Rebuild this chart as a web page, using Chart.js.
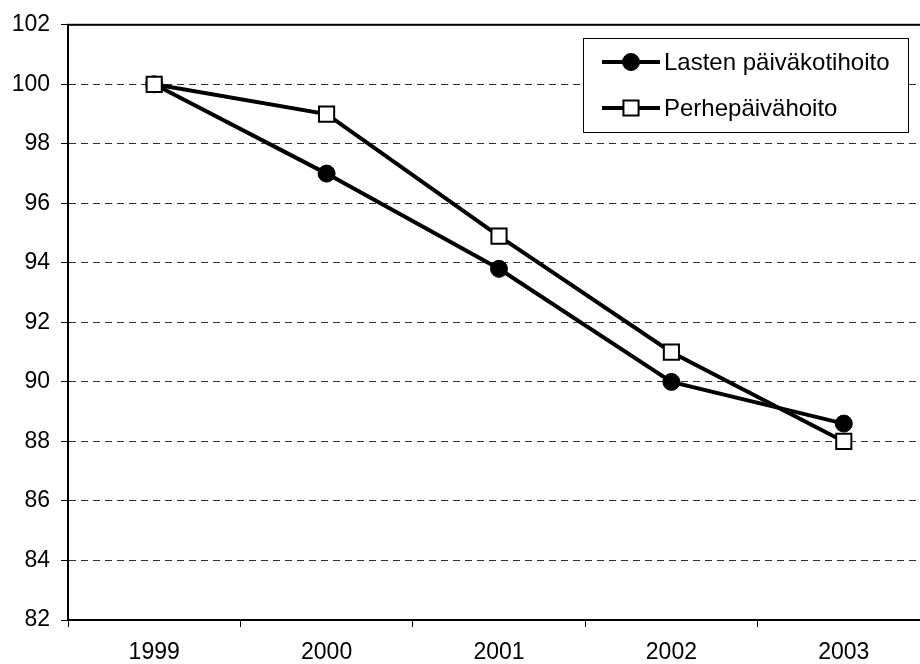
<!DOCTYPE html>
<html>
<head>
<meta charset="utf-8">
<script src="https://cdn.jsdelivr.net/npm/chart.js@4"></script>
<style>
    html, body { margin: 0; padding: 0; overflow: hidden; background: #fff; }
    #indexChart { display: block; }
</style>
</head>
<body>
<!-- canvas is a little wider than the window: the plot's right edge sits just off-picture -->
<canvas id="indexChart" width="932" height="664"></canvas>
<script>
// Index values, 1999 = 100
const years = ['1999', '2000', '2001', '2002', '2003'];
const lastenValues = [100, 97, 93.8, 90, 88.6];
const perheValues = [100, 99, 94.9, 91, 88];
const seriesNames = ['Lasten päiväkotihoito', 'Perhepäivähoito'];
const yMin = 82;
const yMax = 102;
const yStep = 2;

const FONT = '"Liberation Sans", Arial, sans-serif';

// Frame round the plot area plus the boxed legend with line+marker samples
const framePlugin = {
    id: 'frameAndLegend',
    afterDatasetsDraw(chart) {
        const ctx = chart.ctx;
        const a = chart.chartArea;
        ctx.save();
        ctx.strokeStyle = '#000';
        ctx.lineWidth = 2;
        ctx.strokeRect(a.left, a.top, a.right - a.left, a.bottom - a.top);

        // legend box
        const box = { x: 583, y: 38, w: 325, h: 94 };
        ctx.fillStyle = '#fff';
        ctx.fillRect(box.x, box.y, box.w, box.h);
        ctx.lineWidth = 1;
        ctx.strokeRect(box.x + 0.5, box.y + 0.5, box.w, box.h);

        const items = [chart.data.datasets[0], chart.data.datasets[1]];
        items.forEach((ds, i) => {
            const y = 62 + i * 46;
            ctx.strokeStyle = '#000';
            ctx.lineWidth = 4;
            ctx.beginPath();
            ctx.moveTo(602, y);
            ctx.lineTo(660, y);
            ctx.stroke();
            ctx.fillStyle = ds.pointBackgroundColor;
            ctx.strokeStyle = '#000';
            ctx.lineWidth = ds.pointBorderWidth;
            Chart.helpers.drawPoint(ctx, {
                pointStyle: ds.pointStyle,
                radius: ds.pointRadius,
                borderWidth: ds.pointBorderWidth,
                rotation: 0
            }, 631, y);
            ctx.fillStyle = '#000';
            ctx.font = '24px ' + FONT;
            ctx.textBaseline = 'middle';
            ctx.textAlign = 'left';
            ctx.fillText(ds.label, 664, y + 1);
        });
        ctx.restore();
    }
};

const ctx = document.getElementById('indexChart').getContext('2d');
new Chart(ctx, {
    type: 'line',
    data: {
        labels: years,
        datasets: [
            {
                label: seriesNames[0],
                data: lastenValues,
                order: 1,
                borderColor: '#000',
                borderWidth: 4,
                pointStyle: 'circle',
                pointRadius: 8.5,
                pointBackgroundColor: '#000',
                pointBorderColor: '#000',
                pointBorderWidth: 1,
                tension: 0
            },
            {
                label: seriesNames[1],
                data: perheValues,
                order: 0,
                borderColor: '#000',
                borderWidth: 4,
                pointStyle: 'rect',
                pointRadius: 10.7,
                pointBackgroundColor: '#fff',
                pointBorderColor: '#000',
                pointBorderWidth: 2,
                tension: 0
            }
        ]
    },
    options: {
        responsive: false,
        animation: false,
        layout: { autoPadding: false, padding: { top: 24, right: 2, left: 0, bottom: 0 } },
        plugins: {
            legend: { display: false },
            tooltip: { enabled: false }
        },
        scales: {
            x: {
                offset: true,
                grid: {
                    offset: true,
                    drawOnChartArea: false,
                    drawTicks: true,
                    tickLength: 7,
                    color: '#000',
                    lineWidth: 1
                },
                border: { display: true, color: '#000', width: 2 },
                ticks: {
                    color: '#000',
                    font: { family: FONT, size: 23 },
                    padding: 12,
                    maxRotation: 0
                },
                afterFit(scale) { scale.height = 44; }
            },
            y: {
                min: yMin,
                max: yMax,
                ticks: {
                    stepSize: yStep,
                    color: '#000',
                    font: { family: FONT, size: 23 },
                    padding: 11
                },
                grid: {
                    drawTicks: true,
                    tickLength: 7,
                    color: ctx => (ctx.tick && (ctx.tick.value === yMin || ctx.tick.value === yMax)) ? 'rgba(0,0,0,0)' : '#333',
                    tickColor: '#000',
                    lineWidth: 1
                },
                border: { display: true, color: '#000', width: 2, dash: [7, 5] },
                afterFit(scale) { scale.width = 68; }
            }
        }
    },
    plugins: [framePlugin]
});
</script>
</body>
</html>
